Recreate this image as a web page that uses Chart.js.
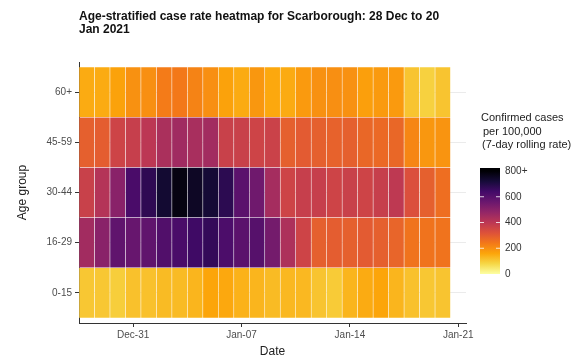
<!DOCTYPE html>
<html>
<head>
<meta charset="utf-8">
<script src="https://cdn.jsdelivr.net/npm/chart.js@4"></script>
<style>
  html, body { margin: 0; padding: 0; background: #fff; }
</style>
</head>
<body>
<canvas id="heat" width="585" height="362"></canvas>
<script>
// x labels: one column per day, plus Jan-21 so the axis reaches that tick
const dates = ['Dec-28','Dec-29','Dec-30','Dec-31','Jan-01','Jan-02','Jan-03','Jan-04','Jan-05','Jan-06',
  'Jan-07','Jan-08','Jan-09','Jan-10','Jan-11','Jan-12','Jan-13','Jan-14','Jan-15','Jan-16',
  'Jan-17','Jan-18','Jan-19','Jan-20','Jan-21'];
const tickDates = ['Dec-31','Jan-07','Jan-14','Jan-21'];
const ageGroups = ['0-15','16-29','30-44','45-59','60+'];

// 7-day rolling rate per 100,000, Dec-28 .. Jan-20
const rate0_15  = [105,105,95,115,115,125,125,135,160,155,140,135,125,130,130,110,100,135,150,160,135,115,105,110];
const rate16_29 = [450,500,580,565,580,610,625,645,665,620,590,600,540,430,360,290,295,290,300,290,280,250,250,250];
const rate30_44 = [370,415,500,625,675,730,780,750,725,680,590,550,445,360,375,375,360,370,360,375,395,325,290,260];
const rate45_59 = [290,295,360,375,400,435,455,440,450,370,370,360,365,290,300,290,285,290,275,270,275,215,185,190];
const rate60p   = [150,150,165,195,200,235,240,220,200,165,150,185,155,150,180,195,200,195,170,180,180,110,90,110];
const legendTicks = [0, 200, 400, 600, 800];

// inferno colour map, dark end first
const inferno = ['#000004','#160b39','#420a68','#6a176e','#932667','#bc3754','#dd513a','#f37819','#fca50a','#f6d746','#fcffa4'];
const maxRate = 800;

function hexToRgb(h) {
  return [1, 3, 5].map(i => parseInt(h.substr(i, 2), 16));
}

function rateColour(v) {
  const t = 1 - Math.min(Math.max(v, 0), maxRate) / maxRate;
  const p = t * 10;
  const i = Math.min(Math.floor(p), 9);
  const f = p - i;
  const a = hexToRgb(inferno[i]), b = hexToRgb(inferno[i + 1]);
  return 'rgb(' + a.map((c, k) => Math.round(c + (b[k] - c) * f)).join(',') + ')';
}

const FONT = '"Liberation Sans", Arial, sans-serif';
const rows = [rate0_15, rate16_29, rate30_44, rate45_59, rate60p];

const datasets = rows.map((vals, r) => ({
  label: ageGroups[r],
  data: vals.map(() => 1),
  backgroundColor: vals.map(rateColour),
  borderColor: 'rgba(255,255,255,0.18)',
  borderWidth: 0.6,
  borderSkipped: false,
  barPercentage: 1,
  categoryPercentage: 1
}));

// title + colour bar legend
const extras = {
  id: 'extras',
  afterDraw(chart) {
    const ctx = chart.ctx;
    ctx.save();
    ctx.fillStyle = '#111';
    ctx.textAlign = 'left';
    ctx.textBaseline = 'middle';
    ctx.font = 'bold 12px ' + FONT;
    ctx.fillText('Age-stratified case rate heatmap for Scarborough: 28 Dec to 20', 79, 17);
    ctx.fillText('Jan 2021', 79, 30);

    ctx.font = '11px ' + FONT;
    ctx.fillStyle = '#222';
    ctx.fillText('Confirmed cases', 481, 118);
    ctx.fillText('per 100,000', 483, 132);
    ctx.fillText('(7-day rolling rate)', 482, 145);

    const x0 = 480, w = 20, yZero = 274, yMax = 171, yTop = 168;
    const grad = ctx.createLinearGradient(0, yZero, 0, yMax);
    inferno.slice().reverse().forEach((c, i) => grad.addColorStop(i / 10, c));
    ctx.fillStyle = inferno[0];
    ctx.fillRect(x0, yTop, w, yMax - yTop);
    ctx.fillStyle = grad;
    ctx.fillRect(x0, yMax, w, yZero - yMax);

    ctx.font = '10px ' + FONT;
    legendTicks.forEach(v => {
      const y = yZero - (yZero - yMax) * v / maxRate;
      if (v > 0 && v < maxRate) {
        ctx.strokeStyle = 'rgba(255,255,255,0.8)';
        ctx.lineWidth = 1;
        ctx.beginPath();
        ctx.moveTo(x0, y); ctx.lineTo(x0 + 4, y);
        ctx.moveTo(x0 + w - 4, y); ctx.lineTo(x0 + w, y);
        ctx.stroke();
      }
      ctx.fillStyle = '#333';
      ctx.fillText(v === maxRate ? '800+' : String(v), 505, y);
    });
    ctx.restore();
  }
};

new Chart(document.getElementById('heat'), {
  type: 'bar',
  data: { labels: dates, datasets },
  plugins: [extras],
  options: {
    responsive: false,
    animation: false,
    layout: { padding: { top: 62, right: 119, left: 0, bottom: 0 } },
    plugins: { legend: { display: false }, tooltip: { enabled: false } },
    scales: {
      x: {
        stacked: true,
        offset: true,
        afterBuildTicks: axis => {
          axis.ticks = axis.ticks.filter(t => tickDates.includes(dates[t.value]));
        },
        afterFit: s => { s.height = 39; },
        ticks: { autoSkip: false, maxRotation: 0, padding: 2, color: '#4d4d4d', font: { family: FONT, size: 10 } },
        grid: { offset: false, drawOnChartArea: false, tickLength: 4, tickColor: '#333' },
        border: { display: true, color: '#333', width: 1 },
        title: { display: true, text: 'Date', color: '#222', padding: { top: 2, bottom: 3 }, font: { family: FONT, size: 12 } }
      },
      y: {
        stacked: true,
        min: -0.1,
        max: 5.1,
        afterBuildTicks: axis => {
          axis.ticks = ageGroups.map((g, i) => ({ value: i + 0.5 }));
        },
        afterFit: s => { s.width = 79; },
        ticks: {
          padding: 3, color: '#4d4d4d', font: { family: FONT, size: 10 },
          callback: v => ageGroups[Math.floor(v)]
        },
        grid: { color: '#ebebeb', lineWidth: 1, tickLength: 4, tickColor: '#333' },
        border: { display: true, color: '#333', width: 1 },
        title: { display: true, text: 'Age group', color: '#222', padding: { top: 15, bottom: 0 }, font: { family: FONT, size: 12 } }
      }
    }
  }
});
</script>
</body>
</html>
